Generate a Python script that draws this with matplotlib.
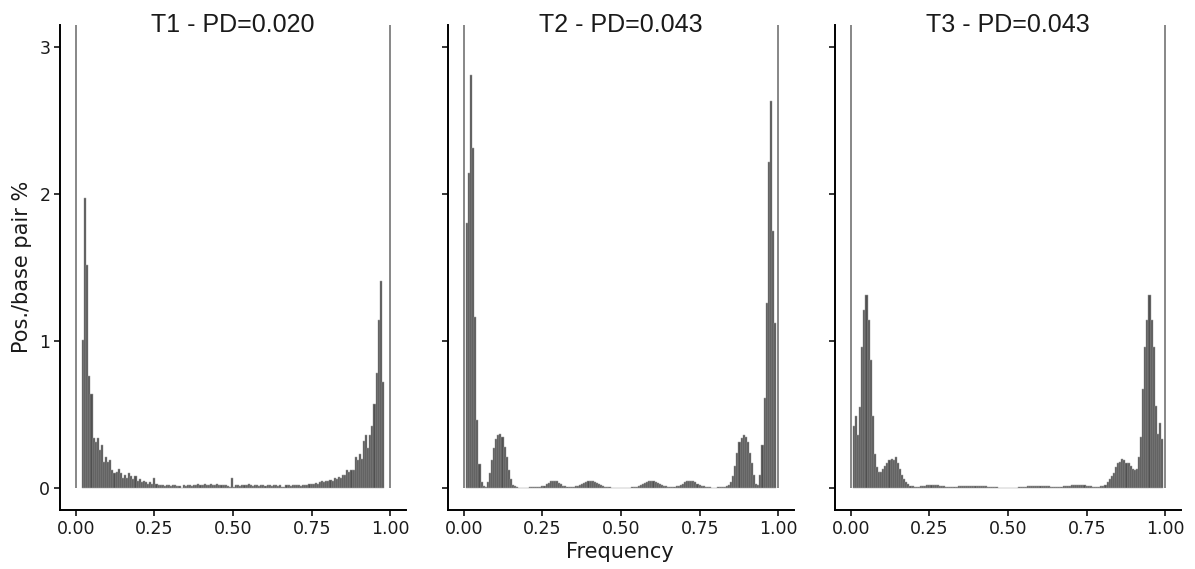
import matplotlib
matplotlib.use('Agg')
import matplotlib.pyplot as plt
import numpy as np

# histogram bins: 150 bins over [0, 1]
n_bins = 150
bin_width = 1.0 / n_bins
bin_centers = (np.arange(n_bins) + 0.5) * bin_width

titles = ['T1 - PD=0.020', 'T2 - PD=0.043', 'T3 - PD=0.043']
x_ticks = [0, 0.25, 0.5, 0.75, 1.0]
x_tick_labels = ['0.00', '0.25', '0.50', '0.75', '1.00']
y_ticks = [0, 1, 2, 3]

# fixed sites at frequency 0 and 1 (go off the top of the panel)
fixed_freq = [0.0, 1.0]
fixed_t1 = [6.0, 6.0]
fixed_t2 = [6.0, 6.0]
fixed_t3 = [6.0, 6.0]

N = None

t1 = [N, N, N, 1.01, 1.97, 1.52, 0.76, 0.64, 0.34, 0.31,
      0.34, 0.26, 0.29, 0.18, 0.21, 0.18, 0.19, 0.12, 0.10, 0.11,
      0.13, 0.10, 0.07, 0.09, 0.07, 0.10, 0.08, 0.06, 0.08, 0.05,
      0.06, 0.04, 0.05, 0.04, 0.03, 0.04, 0.03, 0.07, 0.03, 0.02,
      0.02, 0.02, 0.015, 0.02, 0.02, 0.015, 0.02, 0.02, 0.015, 0.01,
      0.003, 0.02, 0.015, 0.02, 0.02, 0.015, 0.02, 0.02, 0.025, 0.02,
      0.02, 0.025, 0.02, 0.02, 0.025, 0.02, 0.02, 0.025, 0.02, 0.02,
      0.02, 0.02, 0.015, 0.004, 0.07, 0.004, 0.02, 0.02, 0.015, 0.02,
      0.02, 0.02, 0.025, 0.02, 0.015, 0.02, 0.02, 0.015, 0.02, 0.02,
      0.015, 0.02, 0.02, 0.015, 0.02, 0.02, 0.015, 0.02, 0.004, 0.004,
      0.02, 0.02, 0.015, 0.02, 0.02, 0.02, 0.02, 0.015, 0.02, 0.02,
      0.02, 0.025, 0.03, 0.025, 0.035, 0.03, 0.04, 0.045, 0.04, 0.05,
      0.045, 0.055, 0.05, 0.065, 0.06, 0.075, 0.07, 0.09, 0.09, 0.12,
      0.11, 0.12, 0.12, 0.21, 0.19, 0.23, 0.20, 0.32, 0.36, 0.27,
      0.36, 0.42, 0.57, 0.78, 1.14, 1.41, 0.72, N, N, N]

t2 = [N, 1.80, 2.14, 2.81, 2.31, 1.16, 0.46, 0.16, 0.04, 0.01,
      0.005, 0.04, 0.10, 0.19, 0.27, 0.33, 0.36, 0.37, 0.35, 0.28,
      0.21, 0.12, 0.06, 0.02, 0.01, 0.005, 0.003, 0.003, 0.002, 0.003,
      0.003, 0.004, 0.004, 0.005, 0.005, 0.006, 0.008, 0.01, 0.015, 0.025,
      0.035, 0.045, 0.05, 0.05, 0.045, 0.035, 0.025, 0.015, 0.01, 0.006,
      0.005, 0.006, 0.008, 0.01, 0.015, 0.02, 0.03, 0.035, 0.04, 0.045,
      0.045, 0.045, 0.04, 0.035, 0.025, 0.02, 0.012, 0.008, 0.005, 0.004,
      0.003, 0.002, 0.001, 0.001, 0.0, 0.0, 0.001, 0.001, 0.002, 0.003,
      0.004, 0.005, 0.008, 0.012, 0.02, 0.025, 0.035, 0.04, 0.045, 0.045,
      0.045, 0.04, 0.035, 0.03, 0.02, 0.015, 0.01, 0.006, 0.005, 0.006,
      0.008, 0.01, 0.015, 0.02, 0.03, 0.04, 0.045, 0.05, 0.05, 0.045,
      0.04, 0.03, 0.02, 0.015, 0.01, 0.006, 0.005, 0.004, 0.003, 0.003,
      0.003, 0.004, 0.004, 0.005, 0.008, 0.01, 0.02, 0.04, 0.08, 0.15,
      0.24, 0.31, 0.34, 0.36, 0.35, 0.31, 0.24, 0.17, 0.09, 0.03,
      0.02, 0.09, 0.29, 0.61, 1.26, 2.22, 2.63, 1.75, 1.12, N]

t3 = [N, 0.42, 0.49, 0.36, 0.55, 0.96, 1.21, 1.31, 1.14, 0.87,
      0.49, 0.23, 0.14, 0.11, 0.11, 0.13, 0.15, 0.17, 0.19, 0.20,
      0.19, 0.21, 0.17, 0.13, 0.09, 0.06, 0.04, 0.03, 0.015, 0.01,
      0.005, 0.005, 0.008, 0.01, 0.012, 0.015, 0.018, 0.02, 0.02, 0.02,
      0.02, 0.018, 0.015, 0.012, 0.01, 0.008, 0.006, 0.006, 0.006, 0.007,
      0.008, 0.01, 0.012, 0.012, 0.015, 0.015, 0.015, 0.016, 0.016, 0.015,
      0.015, 0.015, 0.014, 0.012, 0.01, 0.008, 0.006, 0.005, 0.004, 0.004,
      0.003, 0.002, 0.002, 0.001, 0.001, 0.001, 0.001, 0.002, 0.002, 0.003,
      0.004, 0.005, 0.006, 0.008, 0.01, 0.012, 0.014, 0.015, 0.016, 0.016,
      0.015, 0.015, 0.014, 0.012, 0.01, 0.008, 0.007, 0.006, 0.006, 0.006,
      0.008, 0.01, 0.012, 0.014, 0.016, 0.018, 0.02, 0.02, 0.02, 0.02,
      0.02, 0.018, 0.015, 0.012, 0.01, 0.008, 0.005, 0.004, 0.005, 0.01,
      0.015, 0.02, 0.04, 0.06, 0.08, 0.10, 0.14, 0.17, 0.18, 0.20,
      0.19, 0.17, 0.17, 0.15, 0.13, 0.12, 0.13, 0.21, 0.35, 0.67,
      0.96, 1.14, 1.31, 1.14, 0.96, 0.56, 0.37, 0.44, 0.33, N]

series = [t1, t2, t3]
fixed = [fixed_t1, fixed_t2, fixed_t3]
for s in series:
    assert len(s) == n_bins

fig = plt.figure(figsize=(11.95, 5.69), dpi=100)

W, H = 1195.0, 569.0
lefts = [60, 448, 835]
ax_w = 346
ax_top = 25
ax_bot = 510

for i in range(3):
    ax = fig.add_axes([lefts[i] / W, (H - ax_bot) / H, ax_w / W, (ax_bot - ax_top) / H])

    xs = [c for c, h in zip(bin_centers, series[i]) if h is not None]
    hs = [h for h in series[i] if h is not None]
    ax.bar(xs, hs, width=bin_width, color='#505050', edgecolor='#a0a0a0',
           linewidth=0.35, zorder=2)
    ax.bar(fixed_freq, fixed[i], width=0.0055, color='#8a8a8a',
           edgecolor='none', zorder=2)

    ax.set_xlim(-0.05, 1.05)
    ax.set_ylim(-0.15, 3.15)
    ax.set_xticks(x_ticks)
    ax.set_xticklabels(x_tick_labels)
    ax.set_yticks(y_ticks)
    if i == 0:
        ax.set_yticklabels([str(v) for v in y_ticks])
    else:
        ax.set_yticklabels([])

    for side in ['top', 'right']:
        ax.spines[side].set_visible(False)
    for side in ['left', 'bottom']:
        ax.spines[side].set_linewidth(1.4)
        ax.spines[side].set_color('black')
    ax.tick_params(axis='both', length=4, width=1.1, pad=3,
                   labelsize=12.5, color='black', labelcolor='#1a1a1a')

    ax.text(0.5, 1.0, titles[i], transform=ax.transAxes, ha='center',
            va='center', fontsize=18, family='Liberation Sans', color='#1a1a1a')

fig.text(620 / W, 1 - 552 / H, 'Frequency', ha='center', va='center',
         fontsize=15, color='#1a1a1a')
fig.text(22 / W, 1 - 267 / H, 'Pos./base pair %', ha='center', va='center',
         rotation=90, fontsize=15, color='#1a1a1a')

plt.savefig('out.png', dpi=100)
